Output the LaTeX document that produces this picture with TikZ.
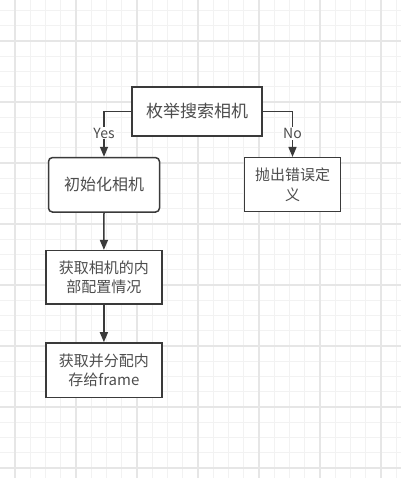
\documentclass[tikz,border=0pt]{standalone}
\usepackage{fontspec}
\setmainfont{Noto Sans CJK SC}
\usetikzlibrary{arrows.meta}
\definecolor{minorg}{HTML}{F2F2F2}
\definecolor{majorg}{HTML}{E6E6E6}
\definecolor{ink}{HTML}{3A3A3A}
\definecolor{txt}{HTML}{4D4D4D}
\tikzset{
  box/.style={draw=ink, line width=1.5pt, fill=white, text=txt, align=center, inner sep=0pt},
  roundbox/.style={box, rounded corners=4pt},
  conn/.style={draw=ink, line width=1.5pt, -{Triangle[length=10pt,width=8pt]}},
  lbl/.style={fill=white, text=txt, font=\fontsize{14pt}{16pt}\selectfont, inner sep=1pt},
  minorline/.style={draw=minorg, line width=1.2pt},
  majorline/.style={draw=majorg, line width=1.5pt}
}
\begin{document}
\begin{tikzpicture}[x=1pt,y=-1pt]
\useasboundingbox (0,0) rectangle (401,478);
\fill[white] (0,0) rectangle (401,478);
% grid
\foreach \k in {0,...,26}{
  \pgfmathsetmacro\xx{-0.25+15.25*\k}
  \draw[minorline] (\xx,0) -- (\xx,478);
}
\foreach \k in {0,...,31}{
  \pgfmathsetmacro\yy{-4.75+15.25*\k}
  \draw[minorline] (0,\yy) -- (401,\yy);
}
\foreach \k in {1,5,...,25}{
  \pgfmathsetmacro\xx{-0.25+15.25*\k}
  \draw[majorline] (\xx,0) -- (\xx,478);
}
\foreach \k in {3,7,...,31}{
  \pgfmathsetmacro\yy{-4.75+15.25*\k}
  \draw[majorline] (0,\yy) -- (401,\yy);
}
% nodes
\node[box, minimum width=130pt, minimum height=49pt, font=\fontsize{17pt}{20pt}\selectfont] (enum) at (197,111.5) {枚举搜索相机};
\node[roundbox, minimum width=111pt, minimum height=54.5pt, font=\fontsize{16pt}{19pt}\selectfont] (init) at (104,184.8) {初始化相机};
\node[box, minimum width=96.4pt, minimum height=54pt, font=\fontsize{15pt}{19.3pt}\selectfont] (err) at (292.5,184.7) {抛出错误定\\义};
\node[box, minimum width=116.3pt, minimum height=53.3pt, font=\fontsize{15pt}{19.3pt}\selectfont] (cfg) at (103.9,277.3) {获取相机的内\\部配置情况};
\node[box, minimum width=116.3pt, minimum height=54.7pt, font=\fontsize{15pt}{19.3pt}\selectfont] (alloc) at (103.9,370.3) {获取并分配内\\存给frame};
% connectors
\draw[conn] (enum.west) -| node[lbl, pos=0.74] {Yes} (init.north);
\draw[conn] (enum.east) -| node[lbl, pos=0.74] {No} (err.north);
\draw[conn] (init.south) -- (cfg.north);
\draw[conn] (cfg.south) -- (alloc.north);
\end{tikzpicture}
\end{document}
